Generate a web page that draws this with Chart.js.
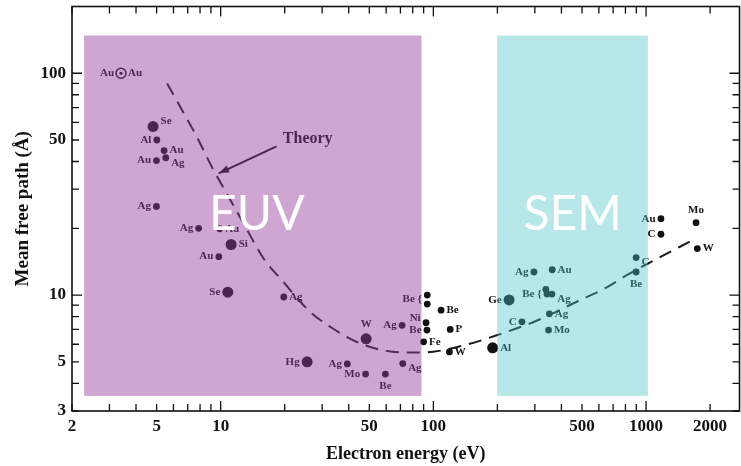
<!DOCTYPE html>
<html>
<head>
<meta charset="utf-8">
<script src="https://cdn.jsdelivr.net/npm/chart.js@4.4.1/dist/chart.umd.min.js"></script>
<style>
  html, body { margin: 0; padding: 0; background: #fff; overflow: hidden; }
  canvas { display: block; }
</style>
</head>
<body>
<canvas id="mfpChart" width="746" height="466"></canvas>
<script>
// axis ticks
const xTickVals = [2, 3, 4, 5, 6, 7, 8, 9, 10, 20, 30, 40, 50, 60, 70, 80, 90, 100,
    200, 300, 400, 500, 600, 700, 800, 900, 1000, 2000];
const xTickLabels = [2, 5, 10, 50, 100, 500, 1000, 2000];
const yTickVals = [3, 4, 5, 6, 7, 8, 9, 10, 20, 30, 40, 50, 60, 70, 80, 90, 100];
const yTickLabels = [3, 5, 10, 50, 100];
const majorTicks = [10, 100, 1000];

// measurements, small dots
const smallEnergy = [5.01, 5.42, 5.52, 4.99, 4.99, 7.88, 9.9, 9.8, 19.8, 71.3, 92.4, 93.3, 90,
    93.6, 93.6, 39.4, 48, 59.5, 71.8, 108.7, 120, 119, 261, 297, 362, 338, 342, 361, 351, 348,
    898, 898, 1175, 1175, 1718, 1742];
const smallMfp = [50, 44.8, 41.6, 40.4, 25.1, 20, 19.9, 14.9, 9.8, 7.3, 7.5, 6.95, 6.15,
    10.0, 9.1, 4.89, 4.4, 4.4, 4.91, 8.55, 7.0, 5.54, 7.57, 12.7, 13.0, 10.6, 10.1, 10.1, 8.23, 6.95,
    14.75, 12.7, 22.1, 18.8, 21.2, 16.2];
const smallElement = ['Al', 'Au', 'Ag', 'Au', 'Ag', 'Ag', 'Au', 'Au', 'Ag', 'Ag', 'Ni', 'Be', 'Fe',
    '', 'Be {', 'Ag', 'Mo', 'Be', 'Ag', 'Be', 'P', 'W', 'C', 'Ag', 'Au', '', 'Be {', 'Ag', 'Ag', 'Mo',
    'C', 'Be', 'Au', 'C', 'Mo', 'W'];
const smallSide = ['l', 'r', 'rb', 'l', 'l', 'l', 'r', 'l', 'r', 'l', 'lt', 'l', 'r',
    'l', 'lt', 'l', 'l', 'b', 'rb', 'r', 'r', 'r', 'l', 'l', 'r', 'l', 'l', 'rb', 'r', 'r',
    'rb', 'b', 'l', 'l', 't', 'r'];

// measurements, large dots
const bigEnergy = [4.81, 11.2, 10.8, 48.3, 25.5, 227, 190];
const bigMfp = [57.5, 16.9, 10.3, 6.35, 5.0, 9.5, 5.78];
const bigElement = ['Se', 'Si', 'Se', 'W', 'Hg', 'Ge', 'Al'];
const bigSide = ['rt', 'r', 'l', 't', 'l', 'l', 'r'];

// ringed point
const ringEnergy = [3.4];
const ringMfp = [100];
const ringElement = ['Au'];
const ringSide = ['lr'];

// theory curve
const theoryEnergy = [5.6, 6.6, 7.7, 9.2, 10.5, 13, 16, 19.5, 26, 33.4, 44.4, 60, 80, 100,
    150, 200, 300, 480, 650, 800, 1100, 1640];
const theoryMfp = [90, 68, 52, 37, 29.5, 20.5, 14.5, 11.6, 8.5, 7.1, 6.1, 5.6, 5.5, 5.55,
    6.05, 6.6, 7.6, 9.4, 10.8, 12.2, 14.4, 17.6];

// shaded regions
const regionName = ['EUV', 'SEM'];
const regionFrom = [2.28, 199.5];
const regionTo = [87.9, 1020];
const regionLow = [3.51, 3.51];
const regionHigh = [148, 148];
const regionTextAt = [14.8, 452];
const regionTextMfp = 23;

const pts = (xs, ys) => xs.map((v, i) => ({x: v, y: ys[i]}));
const serif = '"Liberation Serif", "Times New Roman", serif';

// frame with inward ticks on four sides
const framePlugin = {
    id: 'frame',
    beforeDatasetsDraw(chart) {
        const {ctx, chartArea: a, scales: {x, y}} = chart;
        ctx.save();
        ctx.strokeStyle = '#111';
        ctx.lineWidth = 1.6;
        ctx.strokeRect(a.left, a.top, a.right - a.left, a.bottom - a.top);
        ctx.lineWidth = 1.3;
        ctx.beginPath();
        xTickVals.forEach(v => {
            const px = x.getPixelForValue(v);
            const len = majorTicks.includes(v) ? 10 : 7;
            ctx.moveTo(px, a.bottom); ctx.lineTo(px, a.bottom - len);
            ctx.moveTo(px, a.top); ctx.lineTo(px, a.top + len);
        });
        yTickVals.forEach(v => {
            const py = y.getPixelForValue(v);
            const len = majorTicks.includes(v) ? 10 : 7;
            ctx.moveTo(a.left, py); ctx.lineTo(a.left + len, py);
            ctx.moveTo(a.right, py); ctx.lineTo(a.right - len, py);
        });
        ctx.stroke();

        // theory note with arrow
        const tx = x.getPixelForValue(18.3), ty = y.getPixelForValue(46.8);
        const hx = x.getPixelForValue(9.8), hy = y.getPixelForValue(35.4);
        ctx.strokeStyle = '#111';
        ctx.fillStyle = '#111';
        ctx.lineWidth = 2;
        ctx.beginPath();
        ctx.moveTo(tx, ty); ctx.lineTo(hx, hy);
        ctx.stroke();
        const ang = Math.atan2(hy - ty, hx - tx);
        ctx.beginPath();
        ctx.moveTo(hx, hy);
        ctx.lineTo(hx - 11 * Math.cos(ang - 0.35), hy - 11 * Math.sin(ang - 0.35));
        ctx.lineTo(hx - 11 * Math.cos(ang + 0.35), hy - 11 * Math.sin(ang + 0.35));
        ctx.closePath();
        ctx.fill();
        ctx.font = 'bold 16px ' + serif;
        ctx.textAlign = 'left';
        ctx.textBaseline = 'middle';
        ctx.fillText('Theory', x.getPixelForValue(19.6), y.getPixelForValue(50.5));
        ctx.restore();
    }
};

// element labels next to the dots
const labelPlugin = {
    id: 'labels',
    afterDatasetsDraw(chart) {
        const {ctx} = chart;
        ctx.save();
        ctx.font = 'bold 11px ' + serif;
        ctx.fillStyle = '#111';
        ctx.textBaseline = 'middle';
        chart.data.datasets.forEach((ds, di) => {
            if (!ds.names) return;
            const meta = chart.getDatasetMeta(di);
            meta.data.forEach((el, i) => {
                const txt = ds.names[i];
                if (!txt) return;
                const side = ds.sides[i];
                const r = ds.pointRadius + 2;
                let dy = 0;
                if (side.includes('t') && side.length > 1) dy = -5;
                if (side.includes('b') && side.length > 1) dy = 5;
                if (side === 't') {
                    ctx.textAlign = 'center';
                    ctx.fillText(txt, el.x, el.y - r - 7);
                } else if (side === 'b') {
                    ctx.textAlign = 'center';
                    ctx.fillText(txt, el.x, el.y + r + 7);
                } else {
                    if (side.includes('l')) {
                        ctx.textAlign = 'right';
                        ctx.fillText(txt, el.x - r, el.y + dy);
                    }
                    if (side.includes('r')) {
                        ctx.textAlign = 'left';
                        ctx.fillText(txt, el.x + r, el.y + dy);
                    }
                }
            });
        });
        ctx.restore();
    }
};

// coloured regions laid over the figure
const regionPlugin = {
    id: 'regions',
    afterDraw(chart) {
        const {ctx, scales: {x, y}} = chart;
        const fills = ['rgba(150, 60, 155, 0.46)', 'rgba(75, 195, 200, 0.4)'];
        ctx.save();
        regionName.forEach((name, i) => {
            const x0 = x.getPixelForValue(regionFrom[i]), x1 = x.getPixelForValue(regionTo[i]);
            const y0 = y.getPixelForValue(regionHigh[i]), y1 = y.getPixelForValue(regionLow[i]);
            ctx.fillStyle = fills[i];
            ctx.fillRect(x0, y0, x1 - x0, y1 - y0);
        });
        ctx.fillStyle = '#fff';
        ctx.font = '48px Lato, "Open Sans", sans-serif';
        ctx.textAlign = 'center';
        ctx.textBaseline = 'middle';
        regionName.forEach((name, i) => {
            ctx.fillText(name, x.getPixelForValue(regionTextAt[i]), y.getPixelForValue(regionTextMfp));
        });
        ctx.restore();
    }
};

const ctx = document.getElementById('mfpChart').getContext('2d');

const chart = new Chart(ctx, {
    type: 'scatter',
    data: {
        datasets: [{
            label: 'Theory',
            data: pts(theoryEnergy, theoryMfp),
            showLine: true,
            borderColor: '#1a1a1a',
            borderWidth: 2,
            borderDash: [13, 8],
            cubicInterpolationMode: 'monotone',
            pointRadius: 0
        }, {
            label: 'small',
            data: pts(smallEnergy, smallMfp),
            names: smallElement,
            sides: smallSide,
            pointRadius: 3.4,
            backgroundColor: '#111',
            borderWidth: 0
        }, {
            label: 'large',
            data: pts(bigEnergy, bigMfp),
            names: bigElement,
            sides: bigSide,
            pointRadius: 5.5,
            backgroundColor: '#111',
            borderWidth: 0
        }, {
            label: 'ring',
            data: pts(ringEnergy, ringMfp),
            names: ringElement,
            sides: ringSide,
            pointRadius: 5,
            backgroundColor: 'rgba(0,0,0,0)',
            borderColor: '#111',
            borderWidth: 1.5
        }, {
            label: 'ring dot',
            data: pts(ringEnergy, ringMfp),
            pointRadius: 1.6,
            backgroundColor: '#111',
            borderWidth: 0
        }]
    },
    options: {
        responsive: false,
        animation: false,
        devicePixelRatio: 1,
        layout: {
            padding: {top: 5, right: 0, left: 0, bottom: 0}
        },
        plugins: {
            legend: { display: false },
            tooltip: { enabled: false }
        },
        scales: {
            x: {
                type: 'logarithmic',
                min: 2,
                max: 2750,
                grid: { display: false, drawTicks: false },
                border: { display: false },
                afterBuildTicks: (s) => { s.ticks = xTickVals.map(v => ({value: v})); },
                afterFit: (s) => { s.height = 55; s.paddingLeft = 0; s.paddingRight = 0; },
                ticks: {
                    autoSkip: false,
                    maxRotation: 0,
                    padding: 5,
                    color: '#111',
                    font: { family: serif, size: 17, weight: 'bold' },
                    callback: (v) => xTickLabels.includes(v) ? String(v) : ''
                },
                title: {
                    display: true,
                    text: 'Electron energy (eV)',
                    color: '#111',
                    font: { family: serif, size: 18, weight: 'bold' },
                    padding: { top: 0, bottom: 1 }
                }
            },
            y: {
                type: 'logarithmic',
                min: 3,
                max: 200,
                grid: { display: false, drawTicks: false },
                border: { display: false },
                afterBuildTicks: (s) => { s.ticks = yTickVals.map(v => ({value: v})); },
                afterFit: (s) => { s.width = 72; s.paddingTop = 0; s.paddingBottom = 0; },
                ticks: {
                    autoSkip: false,
                    padding: 6,
                    color: '#111',
                    font: { family: serif, size: 17, weight: 'bold' },
                    callback: (v) => yTickLabels.includes(v) ? String(v) : ''
                },
                title: {
                    display: true,
                    text: 'Mean free path (Å)',
                    color: '#111',
                    font: { family: serif, size: 19, weight: 'bold' },
                    padding: { top: 12, bottom: 0 }
                }
            }
        }
    },
    plugins: [framePlugin, labelPlugin, regionPlugin]
});
</script>
</body>
</html>
